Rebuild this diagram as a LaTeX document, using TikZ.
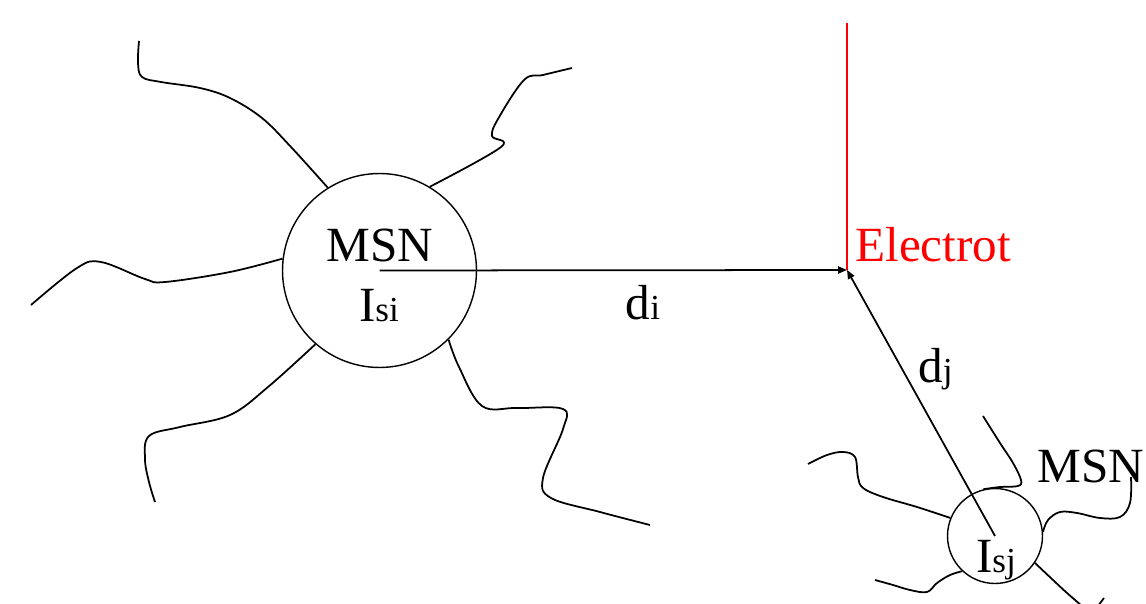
\documentclass[tikz,border=0pt]{standalone}
\usepackage{fontspec}
\setmainfont{Liberation Serif}
\newfontfamily\timesfont{Liberation Serif}
\usetikzlibrary{arrows.meta}

\newcommand{\lowtxt}[1]{{\fontsize{20}{22}\selectfont #1}}

\tikzset{
	soma/.style={circle, draw, line width=0.8pt, inner sep=0pt},
	dendrite/.style={line width=1pt, line join=round},
	txt/.style={font=\timesfont\fontsize{28}{32}\selectfont, inner sep=0pt},
	dist/.style={line width=1pt, -{Triangle[length=5pt,width=4pt]}}
}

\begin{document}
\begin{tikzpicture}[x=0.02cm, y=-0.02cm]
	\useasboundingbox (0,0) rectangle (1146,604);

	% электрод
	\coordinate (elec) at (847,270);
	\coordinate (electop) at (847,23);
	\draw [red, line width=1.2pt] (electop) -- (elec);
	\node [txt, red, anchor=base west] (electrot) at (855,262) {Electrot};

	% нейрон i
	\node [soma, minimum size=3.88cm] (somai) at (379.5,270.5) {};
	\node [txt, anchor=base] (msni) at (380,262) {MSN};
	\node [txt, anchor=base] (isi) at (379,322) {I\lowtxt{si}};
	\draw [dendrite] plot [smooth, tension=0.6] coordinates {(somai.122) (291,147) (262,118) (230,98) (200,88) (161,82) (142,77) (138,63) (139,41)};
	\draw [dendrite] plot [smooth, tension=0.6] coordinates {(somai.59) (501,147) (492,136) (498,119) (524,80) (543,75) (572,68)};
	\draw [dendrite] plot [smooth, tension=0.6] coordinates {(somai.173) (230,272) (165,282) (145,279) (101,262) (77,268) (31,305)};
	\draw [dendrite] plot [smooth, tension=0.6] coordinates {(somai.229) (268,387) (230,415) (180,427) (149,436) (145,459) (149,482) (155,502)};
	\draw [dendrite] plot [smooth, tension=0.6] coordinates {(somai.315) (459,367) (482,406) (517,408) (563,409) (563,429) (543,478) (551,498) (600,512) (650,525)};

	% нейрон j
	\node [soma, minimum size=1.9cm] (somaj) at (995,536) {};
	\node [txt, anchor=base] (isj) at (996,572) {I\lowtxt{sj}};
	\node [txt, anchor=base west] (msnj) at (1037,482) {MSN};
	\draw [dendrite] plot [smooth, tension=0.6] coordinates {(somaj.104) (1000,487) (1018,486) (1021,480) (1013,463) (1000,443) (983,416)};
	\draw [dendrite] plot [smooth, tension=0.6] coordinates {(somaj.158) (917,507) (883,497) (863,488) (858,477) (855,457) (843,452) (827,455) (808,464)};
	\draw [dendrite] plot [smooth, tension=0.6] coordinates {(somaj.5) (1048,520) (1060,512) (1077,513) (1100,518) (1120,517) (1130,503) (1131,477)};
	\draw [dendrite] plot [smooth, tension=0.6] coordinates {(somaj.227) (950,575) (937,583) (927,592) (910,590) (893,585) (875,580)};
	\draw [dendrite] plot [smooth, tension=0.6] coordinates {(somaj.326) (1053,580) (1067,593) (1082,606)};
	\draw [dendrite] (1098,606) -- (1104,598);

	% расстояния до электрода
	\draw [dist] (somai.center) -- (elec);
	\node [txt, anchor=base] (di) at (643,320) {d\lowtxt{i}};
	\draw [dist] (somaj.center) -- (elec);
	\node [txt, anchor=base west] (dj) at (918,383) {d\lowtxt{j}};
\end{tikzpicture}
\end{document}
